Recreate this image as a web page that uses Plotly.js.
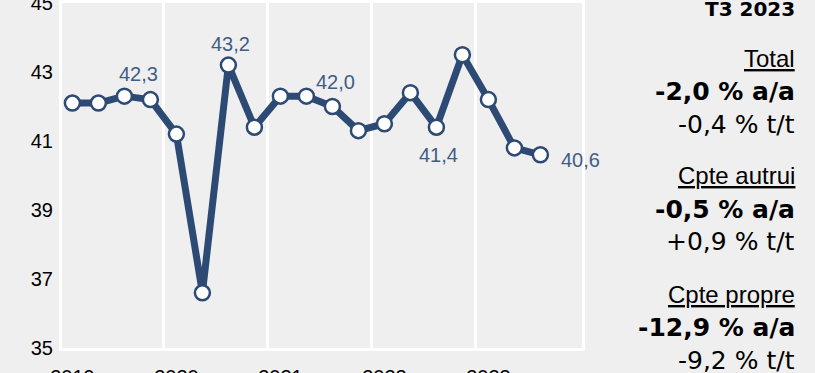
<!DOCTYPE html>
<html><head><meta charset="utf-8">
<script src="https://cdn.plot.ly/plotly-3.0.1.min.js"></script>
<style>html,body{margin:0;padding:0;background:#efefef;overflow:hidden} .js-line{stroke-linejoin:round;stroke-linecap:round}</style>
</head><body><div id="chart" style="width:815px;height:373px"></div>
<script>
// Data
const quarters = ['T1 2019','T2 2019','T3 2019','T4 2019','T1 2020','T2 2020','T3 2020','T4 2020',
  'T1 2021','T2 2021','T3 2021','T4 2021','T1 2022','T2 2022','T3 2022','T4 2022','T1 2023','T2 2023','T3 2023'];
const values = [42.1,42.1,42.3,42.2, 41.2,36.6,43.2,41.4, 42.3,42.3,42.0,41.3, 41.5,42.4,41.4,43.5, 42.2,40.8,40.6];
const yearLabels = ['2019','2020','2021','2022','2023'];
const yTicks = [35,37,39,41,43,45];
const labelIdx = [2,6,10,14,18];
const panelHeader = 'T3 2023';
const panelGroups = ['Total','Cpte autrui','Cpte propre'];
const panelYoY = ['-2,0 % a/a','-0,5 % a/a','-12,9 % a/a'];
const panelQoQ = ['-0,4 % t/t','+0,9 % t/t','-9,2 % t/t'];

// Styles
const labelShift = [[14,22],[2,21],[3,25],[2,-28],[40,-5]];
const NAVY = '#2c4a73', LBL = '#3f5d86', BG = '#efefef';
const fmt = v => v.toFixed(1).replace('.', ',');

const xIdx = values.map((_, i) => i);
const yearTickVals = yearLabels.map((_, k) => 4 * k);
const gridVals = yearLabels.slice(1).map((_, k) => 4 * (k + 1) - 0.5);

const trace = {
  x: xIdx, y: values, type: 'scatter', mode: 'lines+markers',
  line: {color: NAVY, width: 7},
  marker: {size: 15, color: '#ffffff', line: {color: NAVY, width: 2.5}},
  hoverinfo: 'skip', cliponaxis: false
};
const dummy = {x: xIdx, y: values, xaxis: 'x2', type: 'scatter', mode: 'none', hoverinfo: 'skip', showlegend: false};

const annotations = labelIdx.map((i, k) => ({
  x: xIdx[i], y: values[i], xref: 'x', yref: 'y', text: fmt(values[i]), showarrow: false,
  xshift: labelShift[k][0], yshift: labelShift[k][1],
  font: {family: 'Liberation Sans, Arial, sans-serif', size: 20, color: LBL}
}));

const toPaper = py => (348 - py) / 345;
const RX = (797 - 62) / 520;
annotations.push({x: RX, y: toPaper(9), xref: 'paper', yref: 'paper', xanchor: 'right', yanchor: 'middle',
  text: '<b>' + panelHeader + '</b>', showarrow: false,
  font: {family: 'DejaVu Sans, sans-serif', size: 20, color: '#000'}});
const groupTop = [58, 176, 294];
panelGroups.forEach((g, k) => {
  annotations.push({x: RX, y: toPaper(groupTop[k]), xref: 'paper', yref: 'paper', xanchor: 'right', yanchor: 'middle',
    text: '<u>' + g + '</u>', showarrow: false,
    font: {family: 'Liberation Sans, Arial, sans-serif', size: 24, color: '#000'}});
  annotations.push({x: RX, y: toPaper(groupTop[k] + 33), xref: 'paper', yref: 'paper', xanchor: 'right', yanchor: 'middle',
    text: '<b>' + panelYoY[k] + '</b>', showarrow: false,
    font: {family: 'DejaVu Sans, sans-serif', size: 25, color: '#000'}});
  annotations.push({x: RX, y: toPaper(groupTop[k] + 66), xref: 'paper', yref: 'paper', xanchor: 'right', yanchor: 'middle',
    text: panelQoQ[k], showarrow: false,
    font: {family: 'DejaVu Sans, sans-serif', size: 25, color: '#000'}});
});

const layout = {
  width: 815, height: 373,
  margin: {l: 62, r: 233, t: 3, b: 25, pad: 0},
  paper_bgcolor: BG, plot_bgcolor: BG,
  showlegend: false,
  font: {family: 'Liberation Sans, Arial, sans-serif', size: 20, color: '#000'},
  xaxis: {
    range: [-0.4, 19.6], tickmode: 'array', tickvals: yearTickVals, ticktext: yearLabels,
    showgrid: false, zeroline: false, showline: true, mirror: true, linecolor: '#ffffff', linewidth: 3,
    ticks: '', ticklabelstandoff: 9, ticklabeloverflow: 'allow',
    tickfont: {family: 'Liberation Sans, Arial, sans-serif', size: 20, color: '#000'}
  },
  xaxis2: {
    overlaying: 'x', matches: 'x', tickmode: 'array', tickvals: gridVals, showticklabels: false,
    showgrid: true, gridcolor: '#ffffff', gridwidth: 3, zeroline: false, showline: false, ticks: ''
  },
  yaxis: {
    range: [35, 45], tickmode: 'array', tickvals: yTicks, ticktext: yTicks.map(String),
    showgrid: false, zeroline: false, showline: true, mirror: true, linecolor: '#ffffff', linewidth: 3,
    ticks: 'outside', ticklen: 2, tickcolor: BG, ticklabelposition: 'outside', ticklabeloverflow: 'allow',
    tickfont: {family: 'Liberation Sans, Arial, sans-serif', size: 20, color: '#000'}
  },
  annotations: annotations
};

Plotly.newPlot('chart', [dummy, trace], layout, {displayModeBar: false, staticPlot: true});
</script></body></html>
